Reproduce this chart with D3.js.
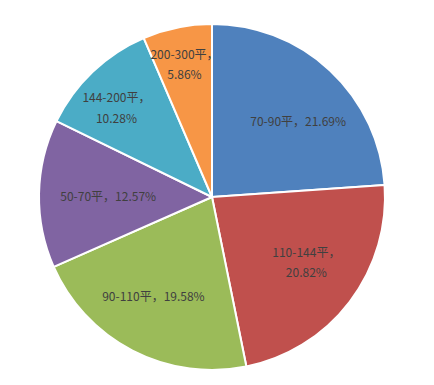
<!DOCTYPE html>
<html>
<head>
<meta charset="utf-8">
<script src="https://cdn.jsdelivr.net/npm/d3@7"></script>
<style>
  body { margin: 0; background: #fff; }
  .label { font-family: "Microsoft YaHei", "Noto Sans CJK SC", sans-serif; font-size: 12px; fill: #404040; }
</style>
</head>
<body>
<div id="chart"></div>
<script>
// Data
const categories = ["70-90平", "110-144平", "90-110平", "50-70平", "144-200平", "200-300平"];
const percents = [21.69, 20.82, 19.58, 12.57, 10.28, 5.86];
const colors = ["#4F81BD", "#C0504D", "#9BBB59", "#8064A2", "#4BACC6", "#F79646"];

const width = 434, height = 385;
const cx = 212, cy = 197, radius = 173;

// label layout tweaks (Excel "best fit" style)
const labelFactor = [0.66, 0.66, 0.67, 0.60, 0.76, 0.79];
const labelNudge = [6, -3, 3, -1, -3, 0];   // degrees
const wrapped = [false, true, false, false, true, true];

const svg = d3.select("#chart").append("svg")
    .attr("width", width)
    .attr("height", height);

const g = svg.append("g").attr("transform", `translate(${cx},${cy})`);

const data = categories.map((c, i) => ({ name: c, value: percents[i], i: i }));

const pie = d3.pie().value(d => d.value).sort(null);
const arc = d3.arc().innerRadius(0).outerRadius(radius);
const arcs = pie(data);

g.selectAll("path")
    .data(arcs)
    .enter().append("path")
    .attr("d", arc)
    .attr("fill", d => colors[d.data.i])
    .attr("stroke", "#fff")
    .attr("stroke-width", 2)
    .attr("stroke-linejoin", "round");

const labels = g.selectAll("text")
    .data(arcs)
    .enter().append("text")
    .attr("class", "label")
    .attr("text-anchor", "middle")
    .attr("transform", d => {
        const i = d.data.i;
        const a = (d.startAngle + d.endAngle) / 2 + labelNudge[i] * Math.PI / 180;
        const r = radius * labelFactor[i];
        return `translate(${r * Math.sin(a)},${-r * Math.cos(a)})`;
    });

labels.each(function(d) {
    const t = d3.select(this);
    const pct = d.data.value.toFixed(2) + "%";
    if (wrapped[d.data.i]) {
        t.append("tspan").attr("x", 0).attr("dy", "-0.35em").text(d.data.name + "，");
        t.append("tspan").attr("x", 0).attr("dy", "1.7em").text(pct);
    } else {
        t.append("tspan").attr("x", 0).attr("dy", "0.35em").text(d.data.name + "，" + pct);
    }
});
</script>
</body>
</html>
